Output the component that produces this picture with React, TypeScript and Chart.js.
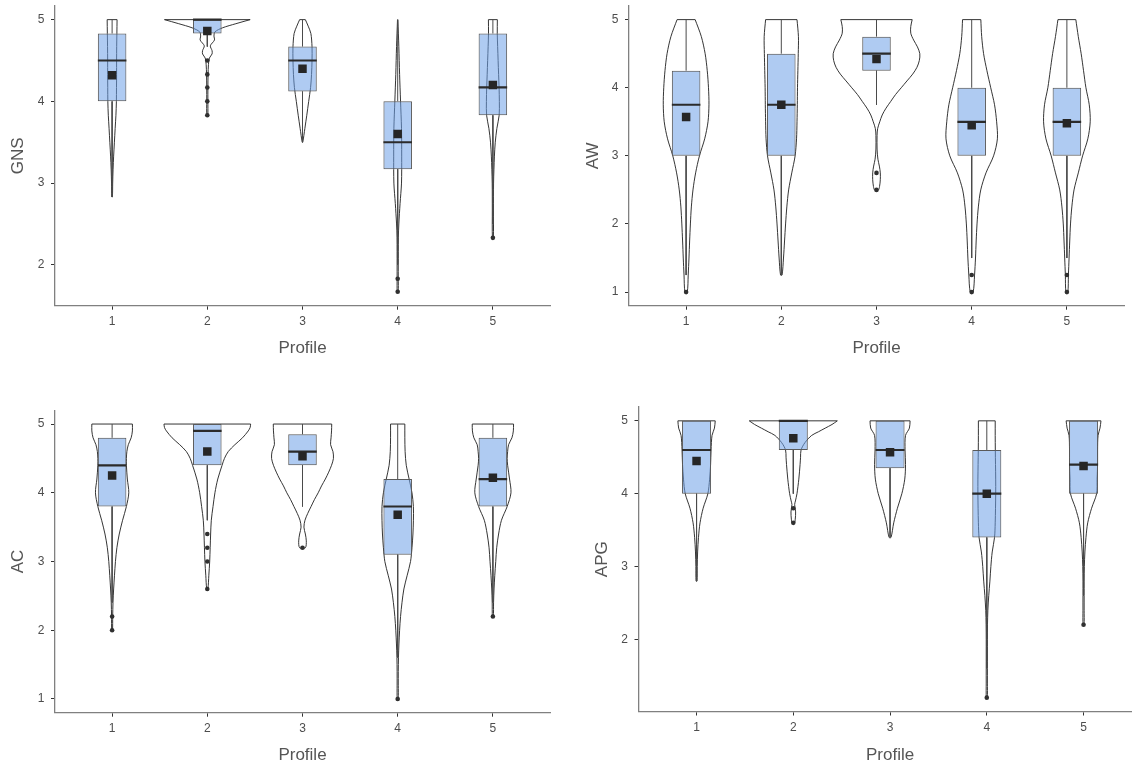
import React, { useEffect, useRef } from "react";
import { Chart, registerables } from "chart.js";

Chart.register(...registerables);

const FONT = "'Liberation Sans', Arial, sans-serif";

const profiles = [1, 2, 3, 4, 5];
const xAxisTitle = "Profile";

// ---------- GNS ----------
const gnsYLimits = [1.5, 5.1667];
const gnsYTicks = [2, 3, 4, 5];
const gnsQ1 = [4.0, 4.83, 4.12, 3.17, 3.83];
const gnsMedian = [4.5, 5.0, 4.5, 3.5, 4.17];
const gnsQ3 = [4.83, 5.0, 4.67, 4.0, 4.83];
const gnsWhiskerLow = [2.83, 4.67, 3.5, 2.0, 2.5];
const gnsWhiskerHigh = [5, 5, 5, 5, 5];
const gnsMean = [4.32, 4.86, 4.4, 3.6, 4.2];
const gnsOutliers = [[], [4.5, 4.33, 4.17, 4.0, 3.83], [], [1.83, 1.67], [2.33]];
const gnsViolinLevels = [
  [5, 4.83, 4.67, 4.5, 4.33, 4.17, 4, 3.83, 3.67, 3.5, 3.33, 3.17, 3, 2.83],
  [5, 4.95, 4.9, 4.85, 4.8, 4.75, 4.68, 4.62, 4.58, 4.53, 4.45, 4.33, 4.17, 4.0, 3.83],
  [5, 4.92, 4.83, 4.67, 4.5, 4.33, 4.17, 4, 3.83, 3.67, 3.5],
  [5, 4.67, 4.33, 4, 3.67, 3.33, 3, 2.75, 2.5, 2.33, 2, 1.83, 1.67],
  [5, 4.83, 4.67, 4.5, 4.33, 4.17, 4, 3.83, 3.67, 3.5, 3.33, 3.17, 3, 2.67, 2.33],
];
const gnsViolinHalfWidths = [
  [0.052, 0.05, 0.048, 0.047, 0.047, 0.046, 0.045, 0.04, 0.032, 0.024, 0.016, 0.01, 0.006, 0.003],
  [0.45, 0.3, 0.16, 0.08, 0.07, 0.075, 0.032, 0.05, 0.05, 0.022, 0.012, 0.008, 0.006, 0.006, 0.005],
  [0.03, 0.06, 0.088, 0.1, 0.1, 0.095, 0.085, 0.065, 0.045, 0.025, 0.003],
  [0.002, 0.012, 0.02, 0.03, 0.04, 0.042, 0.04, 0.025, 0.012, 0.007, 0.006, 0.006, 0.005],
  [0.047, 0.046, 0.05, 0.055, 0.06, 0.065, 0.068, 0.066, 0.042, 0.025, 0.016, 0.011, 0.007, 0.006, 0.005],
];

// ---------- AW ----------
const awYLimits = [0.8, 5.2];
const awYTicks = [1, 2, 3, 4, 5];
const awQ1 = [3, 3, 4.25, 3, 3];
const awMedian = [3.75, 3.75, 4.5, 3.5, 3.5];
const awQ3 = [4.25, 4.5, 4.75, 4, 4];
const awWhiskerLow = [1.25, 1.25, 3.75, 1.5, 1.5];
const awWhiskerHigh = [5, 5, 5, 5, 5];
const awMean = [3.57, 3.75, 4.42, 3.45, 3.48];
const awOutliers = [[1.0], [], [2.75, 2.5], [1.25, 1.0], [1.25, 1.0]];
const awViolinLevels = [
  [5, 4.75, 4.5, 4.25, 4, 3.75, 3.5, 3.25, 3, 2.75, 2.5, 2.25, 2, 1.75, 1.5, 1.25, 1.0],
  [5, 4.75, 4.5, 4.25, 4, 3.75, 3.5, 3.25, 3, 2.75, 2.5, 2.25, 2, 1.75, 1.5, 1.25],
  [5, 4.9, 4.8, 4.7, 4.6, 4.5, 4.4, 4.3, 4.2, 4.1, 4, 3.9, 3.8, 3.7, 3.6, 3.5, 3.4, 3.3, 3.1, 2.95, 2.85, 2.75, 2.65, 2.55, 2.5],
  [5, 4.75, 4.5, 4.25, 4, 3.75, 3.5, 3.25, 3, 2.75, 2.5, 2.25, 2, 1.75, 1.5, 1.25, 1.0],
  [5, 4.75, 4.5, 4.25, 4, 3.75, 3.5, 3.25, 3, 2.75, 2.5, 2.25, 2, 1.75, 1.5, 1.25, 1.0],
];
const awViolinHalfWidths = [
  [0.095, 0.16, 0.2, 0.222, 0.235, 0.24, 0.23, 0.195, 0.14, 0.1, 0.072, 0.055, 0.045, 0.037, 0.03, 0.022, 0.012],
  [0.165, 0.18, 0.178, 0.174, 0.17, 0.168, 0.165, 0.16, 0.145, 0.11, 0.077, 0.058, 0.045, 0.034, 0.023, 0.008],
  [0.375, 0.36, 0.36, 0.39, 0.43, 0.455, 0.45, 0.425, 0.38, 0.32, 0.26, 0.2, 0.15, 0.1, 0.06, 0.034, 0.012, 0.006, 0.006, 0.015, 0.03, 0.04, 0.04, 0.032, 0.02],
  [0.096, 0.105, 0.125, 0.16, 0.2, 0.24, 0.262, 0.27, 0.23, 0.15, 0.095, 0.07, 0.056, 0.047, 0.04, 0.03, 0.015],
  [0.094, 0.12, 0.15, 0.175, 0.2, 0.235, 0.245, 0.22, 0.165, 0.12, 0.075, 0.052, 0.038, 0.03, 0.023, 0.016, 0.01],
];

// ---------- AC ----------
const acYLimits = [0.8, 5.2];
const acYTicks = [1, 2, 3, 4, 5];
const acQ1 = [3.8, 4.4, 4.4, 3.1, 3.8];
const acMedian = [4.4, 4.9, 4.6, 3.8, 4.2];
const acQ3 = [4.8, 5, 4.85, 4.2, 4.8];
const acWhiskerLow = [2.4, 3.6, 3.8, 1.6, 2.4];
const acWhiskerHigh = [5, 5, 5, 5, 5];
const acMean = [4.25, 4.6, 4.53, 3.68, 4.22];
const acOutliers = [[2.2, 2.0], [3.4, 3.2, 3.0, 2.6], [3.2], [1.0], [2.2]];
const acViolinLevels = [
  [5, 4.9, 4.8, 4.7, 4.6, 4.5, 4.4, 4.2, 4.0, 3.8, 3.6, 3.4, 3.2, 3.0, 2.8, 2.6, 2.4, 2.2, 2.0],
  [5, 4.95, 4.9, 4.8, 4.7, 4.6, 4.5, 4.4, 4.2, 4.0, 3.8, 3.6, 3.4, 3.2, 3.0, 2.8, 2.6],
  [5, 4.9, 4.8, 4.7, 4.6, 4.5, 4.4, 4.3, 4.2, 4.1, 4.0, 3.9, 3.8, 3.7, 3.6, 3.5, 3.4, 3.3, 3.2],
  [5, 4.8, 4.6, 4.4, 4.2, 4.0, 3.8, 3.6, 3.4, 3.2, 3.0, 2.8, 2.6, 2.4, 2.2, 2.0, 1.8, 1.6, 1.4, 1.2, 1.0],
  [5, 4.9, 4.8, 4.7, 4.6, 4.5, 4.4, 4.2, 4.0, 3.8, 3.6, 3.4, 3.2, 3.0, 2.8, 2.6, 2.4, 2.2],
];
const acViolinHalfWidths = [
  [0.213, 0.213, 0.2, 0.17, 0.155, 0.15, 0.15, 0.16, 0.175, 0.15, 0.11, 0.075, 0.05, 0.035, 0.025, 0.016, 0.009, 0.006, 0.004],
  [0.455, 0.45, 0.43, 0.37, 0.29, 0.22, 0.18, 0.155, 0.11, 0.08, 0.06, 0.042, 0.035, 0.03, 0.025, 0.016, 0.006],
  [0.307, 0.305, 0.3, 0.295, 0.32, 0.325, 0.305, 0.275, 0.24, 0.2, 0.165, 0.125, 0.09, 0.055, 0.026, 0.015, 0.03, 0.04, 0.03],
  [0.075, 0.075, 0.078, 0.09, 0.12, 0.15, 0.165, 0.165, 0.16, 0.15, 0.135, 0.1, 0.065, 0.045, 0.03, 0.02, 0.013, 0.008, 0.006, 0.006, 0.005],
  [0.217, 0.215, 0.2, 0.165, 0.155, 0.15, 0.155, 0.175, 0.19, 0.15, 0.09, 0.06, 0.04, 0.03, 0.02, 0.012, 0.007, 0.005],
];

// ---------- APG ----------
const apgYLimits = [1.01, 5.19];
const apgYTicks = [2, 3, 4, 5];
const apgQ1 = [4, 4.6, 4.35, 3.4, 4];
const apgMedian = [4.6, 5, 4.6, 4, 4.4];
const apgQ3 = [5, 5, 5, 4.6, 5];
const apgWhiskerLow = [2.8, 4.0, 3.4, 1.6, 2.6];
const apgWhiskerHigh = [5, 5, 5, 5, 5];
const apgMean = [4.45, 4.76, 4.57, 4.0, 4.38];
const apgOutliers = [[], [3.8, 3.6], [], [1.2], [2.2]];
const apgViolinLevels = [
  [5, 4.9, 4.8, 4.6, 4.4, 4.2, 4.0, 3.8, 3.6, 3.4, 3.2, 3.0, 2.8],
  [5, 4.95, 4.9, 4.85, 4.8, 4.7, 4.6, 4.5, 4.4, 4.2, 4.0, 3.9, 3.85, 3.75, 3.65, 3.6],
  [5, 4.9, 4.8, 4.6, 4.4, 4.2, 4.0, 3.8, 3.6, 3.4],
  [5, 4.8, 4.6, 4.4, 4.2, 4.0, 3.8, 3.6, 3.4, 3.2, 3.0, 2.8, 2.6, 2.4, 2.2, 2.0, 1.8, 1.6, 1.4, 1.2],
  [5, 4.9, 4.8, 4.6, 4.4, 4.2, 4.0, 3.8, 3.6, 3.4, 3.2, 3.0, 2.8, 2.6, 2.4, 2.2],
];
const apgViolinHalfWidths = [
  [0.193, 0.185, 0.16, 0.15, 0.145, 0.135, 0.117, 0.068, 0.036, 0.02, 0.011, 0.007, 0.005],
  [0.455, 0.4, 0.33, 0.26, 0.19, 0.12, 0.08, 0.075, 0.07, 0.057, 0.038, 0.022, 0.014, 0.024, 0.02, 0.012],
  [0.207, 0.2, 0.16, 0.155, 0.16, 0.152, 0.122, 0.076, 0.038, 0.01],
  [0.087, 0.087, 0.088, 0.09, 0.092, 0.092, 0.09, 0.087, 0.08, 0.056, 0.042, 0.032, 0.02, 0.011, 0.007, 0.006, 0.006, 0.006, 0.006, 0.005],
  [0.18, 0.17, 0.15, 0.145, 0.145, 0.14, 0.135, 0.083, 0.043, 0.025, 0.014, 0.008, 0.006, 0.006, 0.006, 0.005],
];

// ---------- panel assembly (layout in page pixels) ----------
const panels = [
  {
    title: "GNS", yLimits: gnsYLimits, yTicks: gnsYTicks, q1: gnsQ1, median: gnsMedian, q3: gnsQ3,
    wLow: gnsWhiskerLow, wHigh: gnsWhiskerHigh, mean: gnsMean, outliers: gnsOutliers,
    vLevels: gnsViolinLevels, vWidths: gnsViolinHalfWidths,
    frame: { left: 0, top: 0, width: 570, height: 385, yAxisW: 55, xAxisH: 79.3, padTop: 4, padRight: 20, yTitleX: 18.5, xTitleFromBottom: 37 },
  },
  {
    title: "AW", yLimits: awYLimits, yTicks: awYTicks, q1: awQ1, median: awMedian, q3: awQ3,
    wLow: awWhiskerLow, wHigh: awWhiskerHigh, mean: awMean, outliers: awOutliers,
    vLevels: awViolinLevels, vWidths: awViolinHalfWidths,
    frame: { left: 575, top: 0, width: 557, height: 385, yAxisW: 54, xAxisH: 79.3, padTop: 4, padRight: 8, yTitleX: 18, xTitleFromBottom: 37 },
  },
  {
    title: "AC", yLimits: acYLimits, yTicks: acYTicks, q1: acQ1, median: acMedian, q3: acQ3,
    wLow: acWhiskerLow, wHigh: acWhiskerHigh, mean: acMean, outliers: acOutliers,
    vLevels: acViolinLevels, vWidths: acViolinHalfWidths,
    frame: { left: 0, top: 400, width: 570, height: 370, yAxisW: 55, xAxisH: 57.3, padTop: 10.3, padRight: 20, yTitleX: 18.5, xTitleFromBottom: 15 },
  },
  {
    title: "APG", yLimits: apgYLimits, yTicks: apgYTicks, q1: apgQ1, median: apgMedian, q3: apgQ3,
    wLow: apgWhiskerLow, wHigh: apgWhiskerHigh, mean: apgMean, outliers: apgOutliers,
    vLevels: apgViolinLevels, vWidths: apgViolinHalfWidths,
    frame: { left: 575, top: 400, width: 580, height: 370, yAxisW: 63.5, xAxisH: 58.5, padTop: 7, padRight: 13.4, yTitleX: 27, xTitleFromBottom: 15 },
  },
];

const BOX_HALF = 0.15;
const TITLE_SIZE = 17;
const TITLE_HALF_LINE = (TITLE_SIZE * 1.2) / 2;

function makeConfig(p: any): any {
  const f = p.frame;
  const violins = profiles.map((x, i) => {
    const ys: number[] = p.vLevels[i];
    const ws: number[] = p.vWidths[i];
    const leftSide = ys.map((y, k) => ({ x: x - ws[k], y }));
    const rightSide = ys.map((y, k) => ({ x: x + ws[k], y })).reverse();
    return {
      type: "line",
      data: [...leftSide, ...rightSide],
      borderColor: "#2a2a2a",
      borderWidth: 0.95,
      pointRadius: 0,
      tension: 0.3,
      fill: false,
      order: 6,
    };
  });
  const caps = {
    type: "line",
    data: profiles.flatMap((x, i) => {
      const y = p.vLevels[i][0];
      const w = p.vWidths[i][0];
      return [{ x: x - w, y }, { x: x + w, y }, { x, y: null }];
    }),
    borderColor: "#2a2a2a",
    borderWidth: 0.95,
    pointRadius: 0,
    tension: 0,
    fill: false,
    order: 5,
  };
  const whiskers = {
    type: "line",
    data: profiles.flatMap((x, i) => [
      { x, y: p.q3[i] }, { x, y: p.wHigh[i] }, { x, y: null },
      { x, y: p.q1[i] }, { x, y: p.wLow[i] }, { x, y: null },
    ]),
    borderColor: "#4a4a4a",
    borderWidth: 1,
    pointRadius: 0,
    tension: 0,
    fill: false,
    order: 4,
  };
  const boxes = {
    type: "bar",
    data: profiles.map((x, i) => ({ x, y: [p.q1[i], p.q3[i]] })),
    backgroundColor: "rgba(110,160,232,0.55)",
    borderColor: "#5a5a5a",
    borderWidth: 1,
    borderSkipped: false,
    categoryPercentage: 1,
    barPercentage: 2 * BOX_HALF,
    order: 3,
  };
  const medians = {
    type: "line",
    data: profiles.flatMap((x, i) => [
      { x: x - BOX_HALF, y: p.median[i] }, { x: x + BOX_HALF, y: p.median[i] }, { x, y: null },
    ]),
    borderColor: "#2b2b2b",
    borderWidth: 2.2,
    borderCapStyle: "butt",
    pointRadius: 0,
    tension: 0,
    fill: false,
    order: 2,
  };
  const outliers = {
    type: "line",
    showLine: false,
    data: profiles.flatMap((x, i) => p.outliers[i].map((v: number) => ({ x, y: v }))),
    pointStyle: "circle",
    pointRadius: 2.3,
    pointBackgroundColor: "#303030",
    pointBorderWidth: 0,
    order: 1,
  };
  const means = {
    type: "line",
    showLine: false,
    data: profiles.map((x, i) => ({ x, y: p.mean[i] })),
    pointStyle: "rect",
    pointRadius: 6,
    pointBackgroundColor: "#262626",
    pointBorderWidth: 0,
    order: 0,
  };

  return {
    type: "bar",
    data: { datasets: [means, outliers, medians, boxes, whiskers, caps, ...violins] },
    options: {
      responsive: false,
      maintainAspectRatio: false,
      animation: false,
      devicePixelRatio: 1,
      events: [],
      layout: { padding: { top: f.padTop, right: f.padRight, left: 0, bottom: 0 } },
      plugins: { legend: { display: false }, tooltip: { enabled: false } },
      scales: {
        x: {
          type: "linear",
          min: 0.4,
          max: 5.6,
          offset: false,
          afterBuildTicks: (s: any) => {
            s.ticks = profiles.map((v) => ({ value: v }));
          },
          afterFit: (s: any) => {
            s.height = f.xAxisH;
            s.paddingLeft = 0;
            s.paddingRight = 0;
          },
          ticks: {
            color: "#4d4d4d",
            font: { size: 12, family: FONT },
            padding: 5,
            maxRotation: 0,
            autoSkip: false,
            callback: (v: any) => String(v),
          },
          grid: { offset: false, drawOnChartArea: false, drawTicks: true, tickLength: 4, color: "#333", lineWidth: 1 },
          border: { display: true, color: "#808080", width: 1.3 },
          title: {
            display: true,
            text: xAxisTitle,
            color: "#555",
            font: { size: TITLE_SIZE, family: FONT },
            padding: { top: 0, bottom: f.xTitleFromBottom - TITLE_HALF_LINE },
          },
        },
        y: {
          type: "linear",
          min: p.yLimits[0],
          max: p.yLimits[1],
          beginAtZero: false,
          afterBuildTicks: (s: any) => {
            s.ticks = p.yTicks.map((v: number) => ({ value: v }));
          },
          afterFit: (s: any) => {
            s.width = f.yAxisW;
            s.paddingTop = 0;
            s.paddingBottom = 0;
          },
          ticks: {
            color: "#4d4d4d",
            font: { size: 12, family: FONT },
            padding: 6.5,
            autoSkip: false,
            callback: (v: any) => String(v),
          },
          grid: { drawOnChartArea: false, drawTicks: true, tickLength: 4, color: "#333", lineWidth: 1 },
          border: { display: true, color: "#808080", width: 1.3 },
          title: {
            display: true,
            text: p.title,
            color: "#555",
            font: { size: TITLE_SIZE, family: FONT },
            padding: { top: f.yTitleX - TITLE_HALF_LINE, bottom: 0 },
          },
        },
      },
    },
  };
}

function Panel({ p }: { p: any }) {
  const ref = useRef<HTMLCanvasElement>(null);
  useEffect(() => {
    if (!ref.current) return;
    const chart = new Chart(ref.current, makeConfig(p));
    return () => chart.destroy();
  }, [p]);
  const f = p.frame;
  return (
    <canvas
      ref={ref}
      width={f.width}
      height={f.height}
      style={{ position: "absolute", left: f.left, top: f.top, width: f.width, height: f.height }}
    />
  );
}

export default function App() {
  return (
    <div
      style={{
        position: "absolute",
        left: 0,
        top: 0,
        width: 1132,
        height: 770,
        overflow: "hidden",
        background: "#ffffff",
      }}
    >
      {panels.map((p) => (
        <Panel key={p.title} p={p} />
      ))}
    </div>
  );
}
